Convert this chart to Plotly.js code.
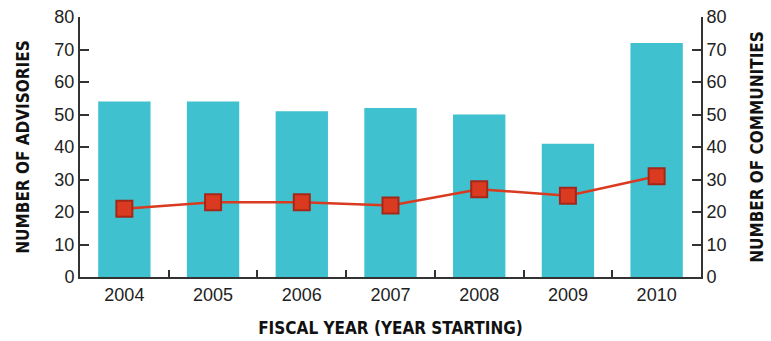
<!DOCTYPE html>
<html><head><meta charset="utf-8">
<script src="https://cdn.plot.ly/plotly-3.0.1.min.js"></script>
<style>html,body{margin:0;padding:0;background:#fff}#c{width:771px;height:341px}</style>
</head><body><div id="c"></div>
<script>
const years = ['2004','2005','2006','2007','2008','2009','2010'];
const advisories = [54, 54, 51, 52, 50, 41, 72];
const communities = [21, 23, 23, 22, 27, 25, 31];
const yTicks = [0,10,20,30,40,50,60,70,80];

const tickFont = {family: '"Liberation Sans", Arial, sans-serif', size: 18, color: '#222'};
const titleFont = {family: '"DejaVu Sans Condensed", "Liberation Sans", Arial', size: 17, color: '#111', weight: 'bold'};

const data = [
  {type:'bar', x: years, y: advisories, marker:{color:'#3fc1cf'}, width:0.59, hoverinfo:'none'},
  {type:'scatter', mode:'lines+markers', x: years, y: communities, yaxis:'y2',
   line:{color:'#d93a20', width:2.5},
   marker:{symbol:'square', size:16, color:'#d93a20', line:{color:'#a3281a', width:2}}}
];
const layout = {
  width:771, height:341, showlegend:false,
  margin:{l:80, r:70, t:17, b:64},
  plot_bgcolor:'#fff', paper_bgcolor:'#fff',
  xaxis:{type:'category', showline:true, linecolor:'#333', linewidth:2, ticks:'inside', tickson:'boundaries',
    ticklen:7, tickwidth:2, tickcolor:'#333', tickfont:tickFont, showgrid:false, zeroline:false,
    title:{text:'FISCAL YEAR (YEAR STARTING)', font:titleFont, standoff:19}},
  yaxis:{range:[0,80], tickvals:yTicks, showline:true, linecolor:'#333', linewidth:2, ticks:'inside',
    ticklen:9, tickwidth:2, tickcolor:'#333', tickfont:tickFont, showgrid:false, zeroline:false,
    title:{text:'NUMBER OF ADVISORIES', font:titleFont, standoff:20}},
  yaxis2:{range:[0,80], tickvals:yTicks, overlaying:'y', side:'right', showline:true, linecolor:'#333', linewidth:2,
    ticks:'inside', ticklen:9, tickwidth:2, tickcolor:'#333', tickfont:tickFont, showgrid:false, zeroline:false,
    title:{text:'NUMBER OF COMMUNITIES', font:titleFont, standoff:25}}
};
Plotly.newPlot('c', data, layout, {staticPlot:true});
</script></body></html>
